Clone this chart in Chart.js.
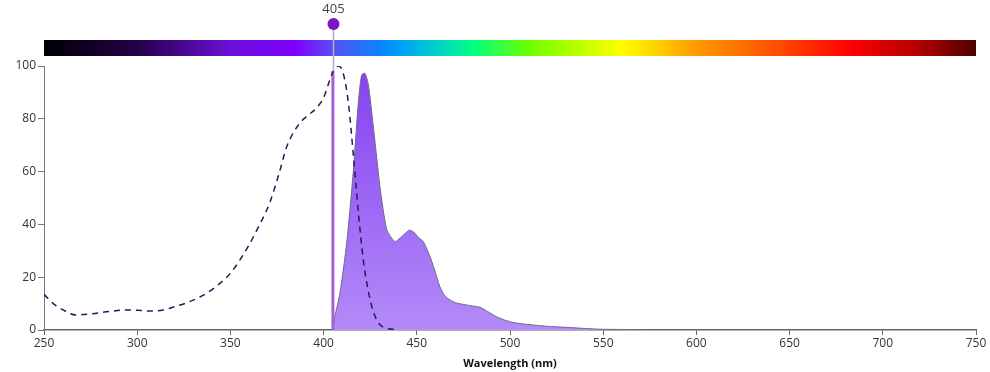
<!DOCTYPE html>
<html>
<head>
<meta charset="utf-8">
<script src="https://cdn.jsdelivr.net/npm/chart.js@4.4.1/dist/chart.umd.min.js"></script>
<style>
  html, body { margin: 0; padding: 0; background: #fff; }
  #wrap { width: 990px; height: 372px; position: relative; }
</style>
</head>
<body>
<div id="wrap"><canvas id="chart"></canvas></div>
<script>
// excitation spectrum (dashed)
const exWavelengths = [250, 255, 260, 267, 275, 285, 293, 300, 307, 314, 320, 328, 335, 341, 350, 359, 365, 371, 376, 380, 384, 388, 392, 396, 400, 403, 405, 408, 410.6, 413.3, 416, 418.6, 421.3, 425, 428.5, 433.8, 439];
const exValues =      [13.5, 10, 7.7, 5.7, 6.1, 7.0, 7.6, 7.5, 7.2, 7.6, 8.8, 10.7, 13, 15.8, 21.5, 31, 39, 48, 59, 69, 75, 79, 81.5, 84, 88, 94, 97.8, 100, 97, 86, 66, 45, 26.5, 11.4, 3.8, 0.6, 0.2];

// emission spectrum (filled)
const emWavelengths = [405, 406, 408.8, 412.4, 416, 418.6, 420.4, 422.2, 424, 426.7, 430.3, 433.9, 438.3, 442.8, 446, 448.2, 451, 453.5, 457, 459, 462.4, 465, 467.8, 471, 475, 479, 483.9, 488, 492.9, 497, 501.8, 506, 512.5, 520, 530.4, 540, 548, 560, 572.4];
const emValues =      [0, 5, 14, 33, 60.6, 86, 96.6, 97.2, 93, 77, 54, 38, 33.5, 36, 37.8, 37.2, 35, 33.5, 28, 24, 16.4, 13, 11.4, 10.3, 9.7, 9.2, 8.6, 7, 5, 3.8, 2.8, 2.4, 1.9, 1.4, 1.0, 0.6, 0.3, 0.2, 0.1];

// laser line
const laserNm = 405;
const laserLabel = '405';
const laserTop = 98;

// spectrum bar color stops (wavelength, colour)
const barStopsNm = [250, 300, 350, 385, 405, 430, 445, 470, 480, 510, 560, 600, 645, 682, 720, 750];
const barStopsColor = ['#000000', '#25004a', '#6a10d8', '#8000ff', '#5a4ef4', '#0a84ff', '#00a8f0', '#00e8b0', '#00ff80', '#6cff00', '#ffff00', '#ff9a00', '#ff4a00', '#ff0000', '#b00000', '#500000'];

const xTicks = [250, 300, 350, 400, 450, 500, 550, 600, 650, 700, 750];
const yTicks = [0, 20, 40, 60, 80, 100];

const toPoints = (xs, ys) => xs.map((x, i) => ({ x, y: ys[i] }));

const decorPlugin = {
    id: 'decor',
    beforeDatasetsDraw(chart) {
        const { ctx, chartArea, scales } = chart;
        const xs = scales.x;
        const left = chartArea.left, right = chartArea.right;
        const g = ctx.createLinearGradient(left, 0, right, 0);
        barStopsNm.forEach((nm, i) => {
            const p = (xs.getPixelForValue(nm) - left) / (right - left);
            g.addColorStop(Math.min(1, Math.max(0, p)), barStopsColor[i]);
        });
        ctx.save();
        ctx.fillStyle = g;
        ctx.fillRect(left, 40, right - left, 16);
        ctx.restore();
    },
    afterDatasetsDraw(chart) {
        const { ctx, scales } = chart;
        const px = Math.round(scales.x.getPixelForValue(laserNm)) + 0.5;
        const yTop = scales.y.getPixelForValue(laserTop);
        ctx.save();
        // stem
        ctx.strokeStyle = '#b0b0b8';
        ctx.lineWidth = 1.5;
        ctx.beginPath();
        ctx.moveTo(px, 24);
        ctx.lineTo(px, yTop);
        ctx.stroke();
        // marker dot
        ctx.fillStyle = '#7a14c4';
        ctx.beginPath();
        ctx.arc(px, 24, 6, 0, Math.PI * 2);
        ctx.fill();
        // label
        ctx.fillStyle = '#444';
        ctx.font = '13px "Open Sans", sans-serif';
        ctx.textAlign = 'center';
        ctx.textBaseline = 'middle';
        ctx.fillText(laserLabel, px, 9);
        ctx.restore();
    }
};

const ctx = document.getElementById('chart');
new Chart(ctx, {
    type: 'line',
    data: {
        datasets: [
            {
                label: 'Emission',
                data: toPoints(emWavelengths, emValues),
                borderColor: '#6e6a80',
                borderWidth: 1,
                backgroundColor: (c) => {
                    const area = c.chart.chartArea;
                    if (!area) return '#9a63f5';
                    const g = c.chart.ctx.createLinearGradient(0, area.top, 0, area.bottom);
                    g.addColorStop(0, '#8540f2');
                    g.addColorStop(1, '#b38bf8');
                    return g;
                },
                fill: 'origin',
                pointRadius: 0,
                tension: 0.2,
                order: 3
            },
            {
                label: 'Laser',
                data: [{ x: laserNm, y: 0 }, { x: laserNm, y: laserTop }],
                borderColor: '#a064d8',
                borderWidth: 3,
                pointRadius: 0,
                fill: false,
                order: 2
            },
            {
                label: 'Excitation',
                data: toPoints(exWavelengths, exValues),
                borderColor: '#26185a',
                borderWidth: 1.5,
                borderDash: [6, 5],
                pointRadius: 0,
                fill: false,
                cubicInterpolationMode: 'monotone',
                order: 1
            }
        ]
    },
    options: {
        responsive: true,
        maintainAspectRatio: false,
        animation: false,
        layout: { padding: { left: 0, right: 14, top: 66, bottom: 0 } },
        plugins: {
            legend: { display: false },
            tooltip: { enabled: false }
        },
        scales: {
            x: {
                type: 'linear',
                min: 250,
                max: 750,
                afterBuildTicks: (s) => { s.ticks = xTicks.map(v => ({ value: v })); },
                afterFit: (s) => { s.height = 42; },
                grid: { drawOnChartArea: false, drawTicks: true, tickLength: 5, color: '#666' },
                border: { display: true, color: '#666', width: 1.5 },
                ticks: {
                    color: '#333',
                    font: { family: '"Open Sans", sans-serif', size: 12 },
                    padding: 1,
                    maxRotation: 0
                },
                title: {
                    display: true,
                    text: 'Wavelength (nm)',
                    color: '#111',
                    font: { family: '"Open Sans", sans-serif', size: 11, weight: 'bold' },
                    padding: { top: 0, bottom: 2 }
                }
            },
            y: {
                min: 0,
                max: 100,
                afterBuildTicks: (s) => { s.ticks = yTicks.map(v => ({ value: v })); },
                afterFit: (s) => { s.width = 44; },
                grid: { drawOnChartArea: false, drawTicks: true, tickLength: 6, color: '#777' },
                border: { display: true, color: '#777', width: 1 },
                ticks: {
                    color: '#333',
                    font: { family: '"Open Sans", sans-serif', size: 12 },
                    padding: 2
                }
            }
        }
    },
    plugins: [decorPlugin]
});
</script>
</body>
</html>
